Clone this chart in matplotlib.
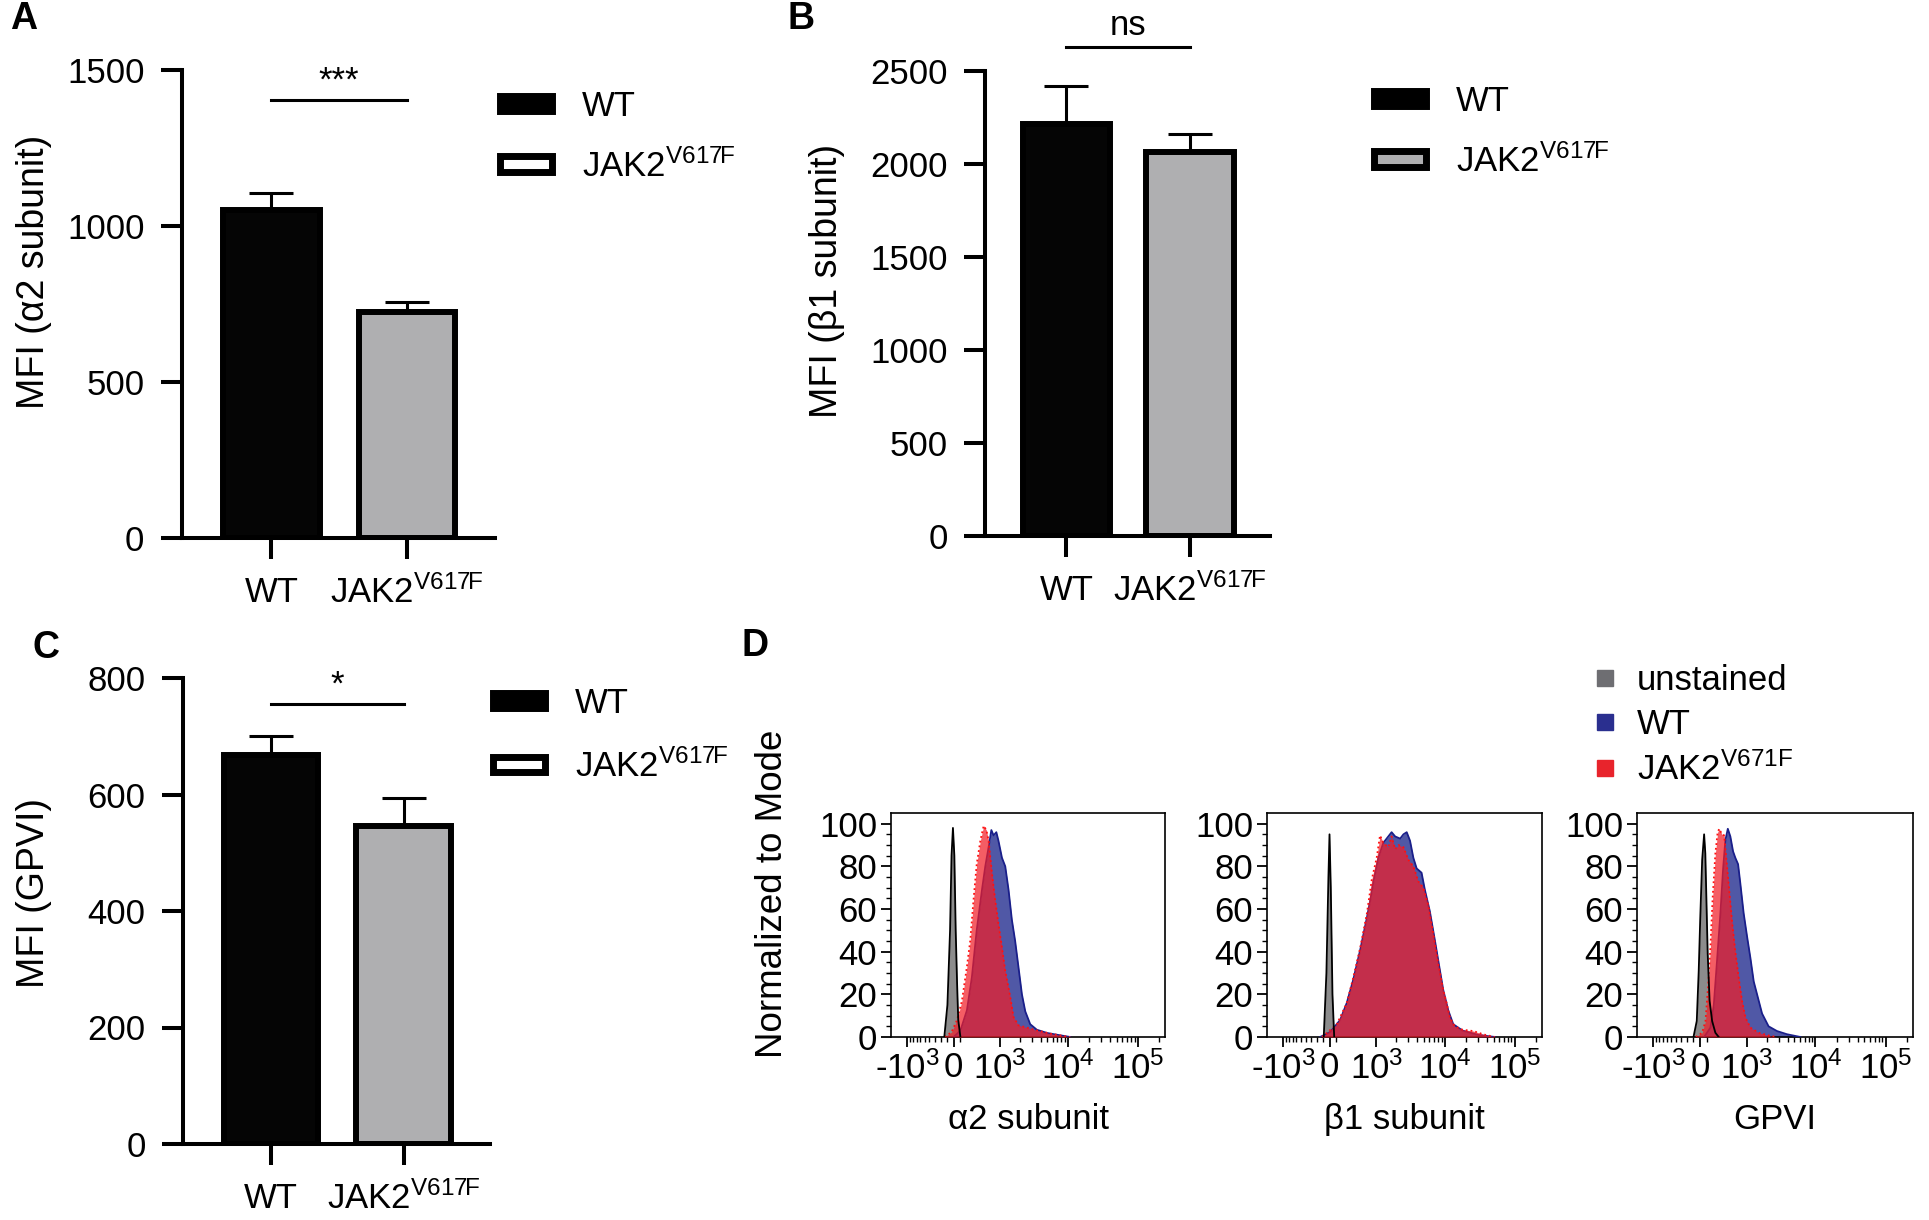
import numpy as np
import matplotlib
matplotlib.use('Agg')
import matplotlib.pyplot as plt
from matplotlib.patches import Patch
from matplotlib.lines import Line2D

plt.rcParams['font.family'] = ['Liberation Sans', 'DejaVu Sans']
plt.rcParams['mathtext.fontset'] = 'custom'
plt.rcParams['mathtext.rm'] = 'Liberation Sans'
plt.rcParams['mathtext.it'] = 'Liberation Sans:italic'
plt.rcParams['mathtext.bf'] = 'Liberation Sans:bold'

# ---- bar chart data (mean, SEM) ----
groups = ['WT', r'JAK2$^{\mathregular{V617F}}$']
a2_mean = [1050, 725]
a2_sem = [57, 33]
b1_mean = [2217, 2062]
b1_sem = [201, 97]
gpvi_mean = [667, 546]
gpvi_sem = [33, 48]

# ---- flow histograms (fluorescence, % of mode) ----
a2_unst_x = [-140, -92, -52, -30, -9, 12, 32, 53, 70, 103]
a2_unst_y = [0, 15, 50, 85, 98, 85, 50, 25, 8, 0]
a2_wt_x = [0, 103, 206, 290, 380, 489, 565, 648, 722, 787, 873, 944, 1072, 1205,
           1353, 1518, 1700, 1900, 2140, 2397, 2830, 3530, 4940, 7650, 10700]
a2_wt_y = [0, 3, 12.5, 28, 50, 69, 80, 89, 97, 94.5, 96, 92, 84, 80,
           69, 55, 45, 33, 20, 12, 6, 3.4, 1.9, 0.8, 0]
a2_jak_x = [-134, -29, 53, 127, 206, 261, 319, 380, 454, 527, 591, 648, 738, 838,
            944, 1072, 1205, 1433, 1605, 1900, 2535, 3530, 5510, 8530, 10700]
a2_jak_y = [0, 2.3, 8, 17, 33, 45, 64, 81, 92, 99, 97, 92, 77, 64,
            53, 42, 31, 19, 9.4, 5.5, 4.4, 3.1, 1.6, 0.5, 0]

b1_unst_x = [-90, -50, -20, -4, 15, 40, 66]
b1_unst_y = [0, 30, 75, 95, 70, 20, 0]
b1_wt_x = [-146, 7, 157, 266, 386, 533, 700, 795, 900, 1072, 1277, 1433, 1700, 1920,
           2270, 2535, 2830, 3160, 3530, 3940, 4635, 5170, 6090, 7230, 8530, 9500,
           11200, 13200, 18000, 30000, 52000]
b1_wt_y = [0, 2.3, 8, 16, 27, 41, 56, 64, 73, 84, 91, 93, 96, 94,
           93, 95, 96, 92, 84, 79, 77, 69, 59, 45, 31, 22,
           12.5, 6, 3, 1, 0]
b1_jak_x = [-116, 107, 266, 386, 533, 700, 845, 1010, 1137, 1277, 1518, 1700, 1920,
            2140, 2535, 3000, 3530, 4150, 4900, 5770, 6860, 8080, 9500, 10600, 11850,
            13900, 18000, 25500, 36000, 52000]
b1_jak_y = [0, 6, 16, 28, 42, 58, 74, 84, 94.5, 91, 89, 94, 88,
            90, 89, 83, 80, 73, 70, 62, 48, 34, 22, 16, 9,
            5, 3.4, 2.8, 1.2, 0]

gp_unst_x = [-97, -48, -19, 3, 32, 61, 79, 95, 115, 144, 184, 237, 294]
gp_unst_y = [0, 7.5, 31, 55, 83, 95, 86, 65, 39, 17, 7.5, 2, 0]
gp_wt_x = [61, 157, 211, 266, 325, 376, 419, 471, 527, 591, 648, 722, 787, 891,
           1010, 1137, 1277, 1433, 1700, 2120, 2800, 3900, 6090]
gp_wt_y = [0, 4.4, 15, 36, 58, 79, 92, 97.6, 94, 87, 84, 81, 72, 58,
           47, 37, 26, 20, 11, 5, 2.8, 1.3, 0]
gp_jak_x = [-61, 32, 82, 119, 157, 193, 237, 276, 304, 354, 397, 442, 496, 565,
            648, 738, 838, 953, 1137, 1518, 2250, 2800]
gp_jak_y = [0, 2, 7.5, 23, 42, 65.5, 86, 96, 97.6, 95, 94.5, 83, 70, 54.5,
            40, 28, 17, 9, 4.4, 2, 0.5, 0]

flow_ticks = [-1e3, 0, 1e3, 1e4, 1e5]
flow_ticklabels = [r'-$\mathregular{10^3}$', '0', r'$\mathregular{10^3}$',
                   r'$\mathregular{10^4}$', r'$\mathregular{10^5}$']
flow_labels = ['unstained', 'WT', r'JAK2$^{\mathregular{V671F}}$']

W, H = 1929, 1220
fig = plt.figure(figsize=(W / 100, H / 100), dpi=100)


def px_axes(left, top, right, bottom):
    return fig.add_axes([left / W, 1 - bottom / H, (right - left) / W, (bottom - top) / H])


def bar_panel(ax, means, sems, ymax, ystep, ylabel, ylab_xy, star, star_y, line_y,
              leg_face, leg_xy, leg_space=0.75):
    x = np.arange(len(groups))
    ax.bar(x, means, width=0.71, color=['#050505', '#afafb1'], edgecolor='black',
           linewidth=4.3, zorder=2)
    ax.errorbar(x, means, yerr=[np.zeros(len(sems)), sems], fmt='none', ecolor='black',
                elinewidth=2.2, capsize=16, capthick=2.2, zorder=1)
    ax.set_xlim(-0.66, 1.65)
    ax.set_ylim(0, ymax)
    ax.set_yticks(np.arange(0, ymax + 1, ystep))
    ax.set_xticks(x, groups)
    for s in ['top', 'right']:
        ax.spines[s].set_visible(False)
    for s in ['left', 'bottom']:
        ax.spines[s].set_linewidth(2.9)
    ax.tick_params(length=15, width=2.9, labelsize=25, pad=12)
    ax.set_ylabel(ylabel, fontsize=27, va='center')
    ax.yaxis.set_label_coords(*ylab_xy)
    ax.plot([0, 1], [line_y, line_y], color='black', lw=2.2, clip_on=False)
    ax.text(0.5, star_y, star, ha='center', va='baseline', fontsize=25, clip_on=False)
    handles = [Patch(facecolor='black', edgecolor='black', linewidth=5),
               Patch(facecolor=leg_face, edgecolor='black', linewidth=5)]
    ax.legend(handles, ['WT', groups[1]], loc='upper left',
              bbox_to_anchor=(leg_xy[0] / W, 1 - leg_xy[1] / H),
              bbox_transform=fig.transFigure, frameon=False, fontsize=25,
              handlelength=1.5, handleheight=0.3, handletextpad=0.85,
              labelspacing=leg_space, borderpad=0, borderaxespad=0)


axA = px_axes(182, 70, 495, 538)
bar_panel(axA, a2_mean, a2_sem, 1500, 500, 'MFI (α2 subunit)',
          (-0.473, 0.568), '***', 1433, 1405, 'white', (500, 90))

axB = px_axes(985, 71, 1270, 536)
bar_panel(axB, b1_mean, b1_sem, 2500, 500, 'MFI (β1 subunit)',
          (-0.554, 0.548), 'ns', 2694, 2627, '#afafb1', (1374, 85))

axC = px_axes(183, 678, 490, 1144)
bar_panel(axC, gpvi_mean, gpvi_sem, 800, 200, 'MFI (GPVI)',
          (-0.485, 0.539), '*', 771, 755, 'white', (493, 687), leg_space=0.85)


def hist_panel(ax, unst, wt, jak, xlabel):
    ax.set_xscale('asinh', linear_width=450)
    ax.fill_between(unst[0], unst[1], color='#8c8c8c', lw=0, zorder=1)
    ax.fill_between(wt[0], wt[1], color='#5058a6', lw=0, zorder=2)
    ax.plot(wt[0], wt[1], color='#1a1f8a', lw=1.3, zorder=3)
    ax.fill_between(jak[0], jak[1], color='#f01e28', alpha=0.72, lw=0, zorder=4)
    ax.plot(jak[0], jak[1], color='#ff1010', lw=1.3, ls=':', zorder=5)
    ax.plot(unst[0], unst[1], color='black', lw=1.3, zorder=6)
    ax.set_xlim(-1756, 246800)
    ax.set_ylim(0, 105)
    ax.set_xticks(flow_ticks, flow_ticklabels)
    minor = [-100 * k for k in range(1, 10)] + [100] + \
            [m * 10 ** e for e in (3, 4) for m in range(2, 10)] + [2e5]
    ax.set_xticks(minor, minor=True)
    ax.set_yticks(np.arange(0, 101, 20))
    ax.set_yticks(np.arange(0, 101, 5), minor=True)
    for s in ax.spines.values():
        s.set_linewidth(1.2)
    ax.tick_params(which='major', length=7, width=1.3)
    ax.tick_params(which='minor', length=3.5, width=1)
    ax.tick_params(axis='y', labelsize=25, pad=3)
    ax.tick_params(axis='x', labelsize=25, pad=3)
    ax.set_xlabel(xlabel, fontsize=25, va='center')
    ax.xaxis.set_label_coords(0.5, -0.37)


axD1 = px_axes(891, 813, 1165, 1037)
hist_panel(axD1, (a2_unst_x, a2_unst_y), (a2_wt_x, a2_wt_y), (a2_jak_x, a2_jak_y), 'α2 subunit')
axD1.set_ylabel('Normalized to Mode', fontsize=26.5, va='center')
axD1.yaxis.set_label_coords(-0.434, 0.64)

axD2 = px_axes(1267, 813, 1542, 1037)
hist_panel(axD2, (b1_unst_x, b1_unst_y), (b1_wt_x, b1_wt_y), (b1_jak_x, b1_jak_y), 'β1 subunit')

axD3 = px_axes(1637, 813, 1913, 1037)
hist_panel(axD3, (gp_unst_x, gp_unst_y), (gp_wt_x, gp_wt_y), (gp_jak_x, gp_jak_y), 'GPVI')

flow_handles = [Line2D([], [], ls='none', marker='s', markersize=11, color=c)
                for c in ['#6e6e72', '#2a2f8f', '#e8242c']]
fig.legend(flow_handles, flow_labels, loc='upper left',
           bbox_to_anchor=(1588 / W, 1 - 664 / H), frameon=False, fontsize=25,
           handlelength=1.0, handletextpad=0.4, labelspacing=0.32,
           borderpad=0, borderaxespad=0)

for letter, (lx, ly) in {'A': (10, 1), 'B': (788, 1), 'C': (33, 630), 'D': (742, 628)}.items():
    fig.text(lx / W, 1 - ly / H, letter, fontsize=27, fontweight='bold', ha='left', va='top')

fig.savefig('out.png', dpi=100)
